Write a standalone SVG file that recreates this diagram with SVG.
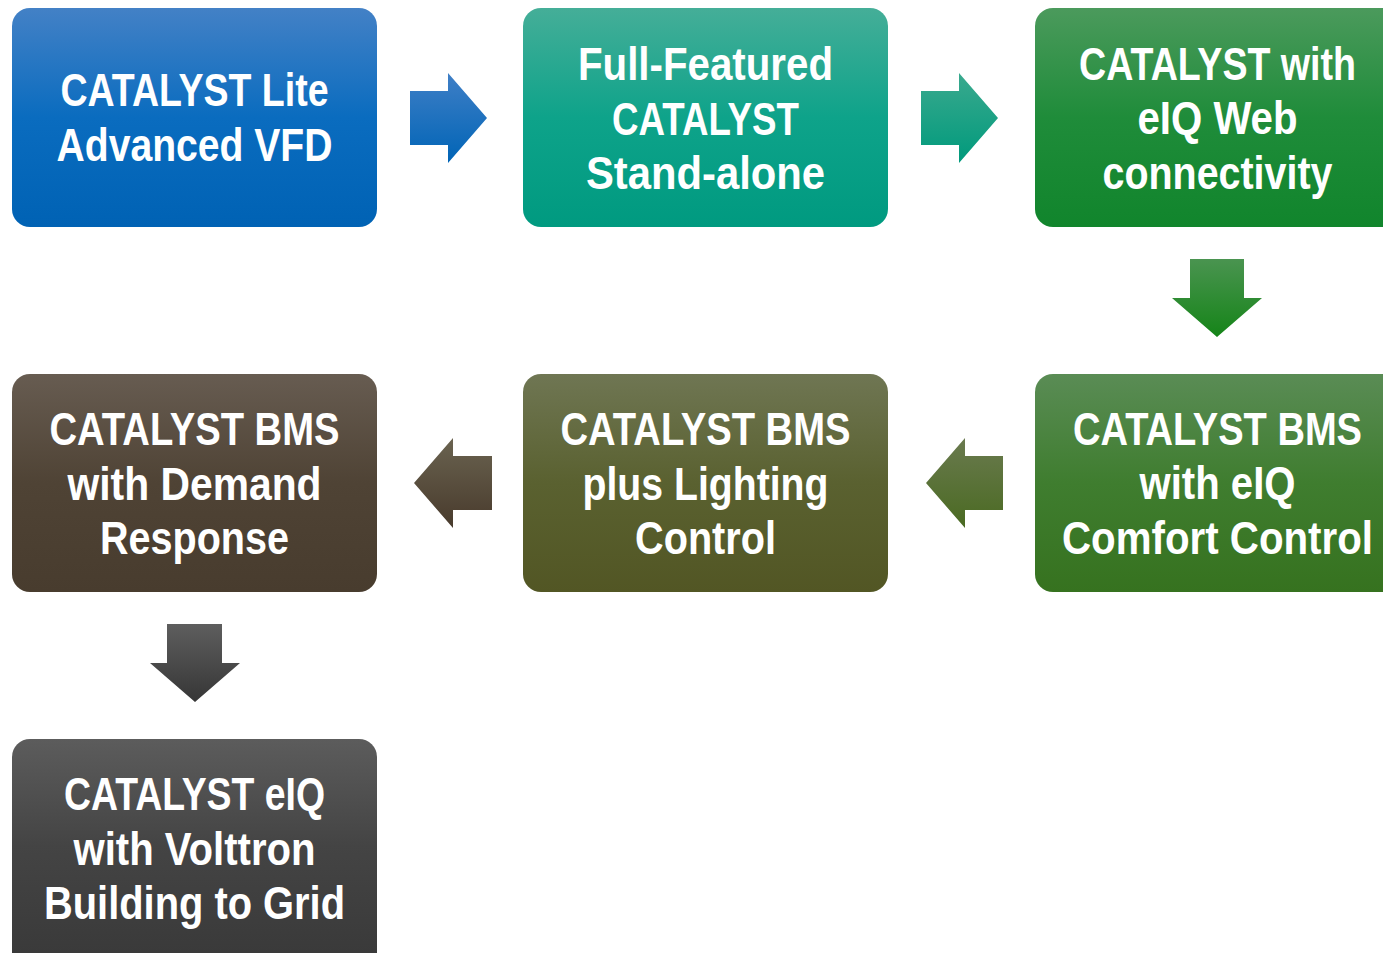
<svg xmlns="http://www.w3.org/2000/svg" width="1383" height="953" viewBox="0 0 1383 953">
<style>
text{font-family:"Liberation Sans",Arial,sans-serif;font-size:46px;font-weight:bold;fill:#ffffff;text-anchor:middle}
</style>
<defs>
<linearGradient id="gBlue" x1="0" y1="0" x2="0" y2="1"><stop offset="0" stop-color="#4381c6"/><stop offset="0.5" stop-color="#0a6cbf"/><stop offset="1" stop-color="#0062b4"/></linearGradient>
<linearGradient id="gTeal" x1="0" y1="0" x2="0" y2="1"><stop offset="0" stop-color="#45ae98"/><stop offset="0.5" stop-color="#0ea38a"/><stop offset="1" stop-color="#009a80"/></linearGradient>
<linearGradient id="gGreen" x1="0" y1="0" x2="0" y2="1"><stop offset="0" stop-color="#4b9a5c"/><stop offset="0.5" stop-color="#1f8c3a"/><stop offset="1" stop-color="#11852c"/></linearGradient>
<linearGradient id="gGreen2" x1="0" y1="0" x2="0" y2="1"><stop offset="0" stop-color="#5a8c55"/><stop offset="0.5" stop-color="#3f7d2f"/><stop offset="1" stop-color="#36721f"/></linearGradient>
<linearGradient id="gOlive" x1="0" y1="0" x2="0" y2="1"><stop offset="0" stop-color="#6f7653"/><stop offset="0.5" stop-color="#5a6130"/><stop offset="1" stop-color="#525624"/></linearGradient>
<linearGradient id="gBrown" x1="0" y1="0" x2="0" y2="1"><stop offset="0" stop-color="#675c51"/><stop offset="0.5" stop-color="#4f4335"/><stop offset="1" stop-color="#483c2e"/></linearGradient>
<linearGradient id="gGray" x1="0" y1="0" x2="0" y2="1"><stop offset="0" stop-color="#5c5c5c"/><stop offset="0.5" stop-color="#444444"/><stop offset="1" stop-color="#3a3a3a"/></linearGradient>
<linearGradient id="aBlue" x1="0" y1="0" x2="0" y2="1"><stop offset="0" stop-color="#3f7fc6"/><stop offset="1" stop-color="#0064b6"/></linearGradient>
<linearGradient id="aTeal" x1="0" y1="0" x2="0" y2="1"><stop offset="0" stop-color="#3aa98e"/><stop offset="1" stop-color="#009a7c"/></linearGradient>
<linearGradient id="aGreen" x1="0" y1="0" x2="0" y2="1"><stop offset="0" stop-color="#4a9450"/><stop offset="1" stop-color="#158418"/></linearGradient>
<linearGradient id="aOlive" x1="0" y1="0" x2="0" y2="1"><stop offset="0" stop-color="#6a7a4f"/><stop offset="1" stop-color="#4a6a22"/></linearGradient>
<linearGradient id="aBrown" x1="0" y1="0" x2="0" y2="1"><stop offset="0" stop-color="#6a6350"/><stop offset="1" stop-color="#483a2c"/></linearGradient>
<linearGradient id="aGray" x1="0" y1="0" x2="0" y2="1"><stop offset="0" stop-color="#5e5e5e"/><stop offset="1" stop-color="#363636"/></linearGradient>
</defs>
<g id="connectors">
<path d="M410,91 H448 V73 L487,118 L448,163 V145 H410 Z" fill="url(#aBlue)"/>
<path d="M921,91 H959 V73 L998,118 L959,163 V145 H921 Z" fill="url(#aTeal)"/>
<path d="M1190,259 H1244 V298 H1262 L1217,337 L1172,298 H1190 Z" fill="url(#aGreen)"/>
<path d="M1003,456 H965 V438 L926,483 L965,528 V510 H1003 Z" fill="url(#aOlive)"/>
<path d="M492,456 H453 V438 L414,483 L453,528 V510 H492 Z" fill="url(#aBrown)"/>
<path d="M167,624 H222 V663 H240 L195,702 L150,663 H167 Z" fill="url(#aGray)"/>
</g>
<g id="node1">
<rect x="12" y="8" width="365" height="219" rx="18" fill="url(#gBlue)"/>
<text x="194.5" y="106" textLength="268" lengthAdjust="spacingAndGlyphs">CATALYST Lite</text>
<text x="194.5" y="160.5" textLength="276" lengthAdjust="spacingAndGlyphs">Advanced VFD</text>
</g>
<g id="node2">
<rect x="523" y="8" width="365" height="219" rx="18" fill="url(#gTeal)"/>
<text x="705.5" y="80" textLength="255" lengthAdjust="spacingAndGlyphs">Full-Featured</text>
<text x="705.5" y="134.5" textLength="187" lengthAdjust="spacingAndGlyphs">CATALYST</text>
<text x="705.5" y="189" textLength="239" lengthAdjust="spacingAndGlyphs">Stand-alone</text>
</g>
<g id="node3">
<path d="M1053,8 H1383 V227 H1053 A18,18 0 0 1 1035,209 V26 A18,18 0 0 1 1053,8 Z" fill="url(#gGreen)"/>
<g transform="translate(1217.5,0) scale(0.7914,1)"><text x="0" y="80" textLength="350" lengthAdjust="spacingAndGlyphs">CATALYST with</text></g>
<g transform="translate(1217.5,0) scale(0.8696,1)"><text x="0" y="134.5" textLength="184" lengthAdjust="spacingAndGlyphs">eIQ Web</text></g>
<g transform="translate(1217.5,0) scale(0.8582,1)"><text x="0" y="189" textLength="268" lengthAdjust="spacingAndGlyphs">connectivity</text></g>
</g>
<g id="node4">
<path d="M1053,374 H1383 V592 H1053 A18,18 0 0 1 1035,574 V392 A18,18 0 0 1 1053,374 Z" fill="url(#gGreen2)"/>
<g transform="translate(1217.5,0) scale(0.8028,1)"><text x="0" y="445" textLength="360" lengthAdjust="spacingAndGlyphs">CATALYST BMS</text></g>
<g transform="translate(1217.5,0) scale(0.8715,1)"><text x="0" y="499.5" textLength="179" lengthAdjust="spacingAndGlyphs">with eIQ</text></g>
<g transform="translate(1217.5,0) scale(0.8761,1)"><text x="0" y="554" textLength="355" lengthAdjust="spacingAndGlyphs">Comfort Control</text></g>
</g>
<g id="node5">
<rect x="523" y="374" width="365" height="218" rx="18" fill="url(#gOlive)"/>
<text x="705.5" y="445" textLength="290" lengthAdjust="spacingAndGlyphs">CATALYST BMS</text>
<text x="705.5" y="499.5" textLength="246" lengthAdjust="spacingAndGlyphs">plus Lighting</text>
<text x="705.5" y="554" textLength="141" lengthAdjust="spacingAndGlyphs">Control</text>
</g>
<g id="node6">
<rect x="12" y="374" width="365" height="218" rx="18" fill="url(#gBrown)"/>
<text x="194.5" y="445" textLength="290" lengthAdjust="spacingAndGlyphs">CATALYST BMS</text>
<text x="194.5" y="499.5" textLength="254" lengthAdjust="spacingAndGlyphs">with Demand</text>
<text x="194.5" y="554" textLength="189" lengthAdjust="spacingAndGlyphs">Response</text>
</g>
<g id="node7">
<path d="M30,739 H359 A18,18 0 0 1 377,757 V953 H12 V757 A18,18 0 0 1 30,739 Z" fill="url(#gGray)"/>
<text x="194.5" y="810" textLength="261" lengthAdjust="spacingAndGlyphs">CATALYST eIQ</text>
<text x="194.5" y="864.5" textLength="242" lengthAdjust="spacingAndGlyphs">with Volttron</text>
<text x="194.5" y="919" textLength="301" lengthAdjust="spacingAndGlyphs">Building to Grid</text>
</g>
</svg>
